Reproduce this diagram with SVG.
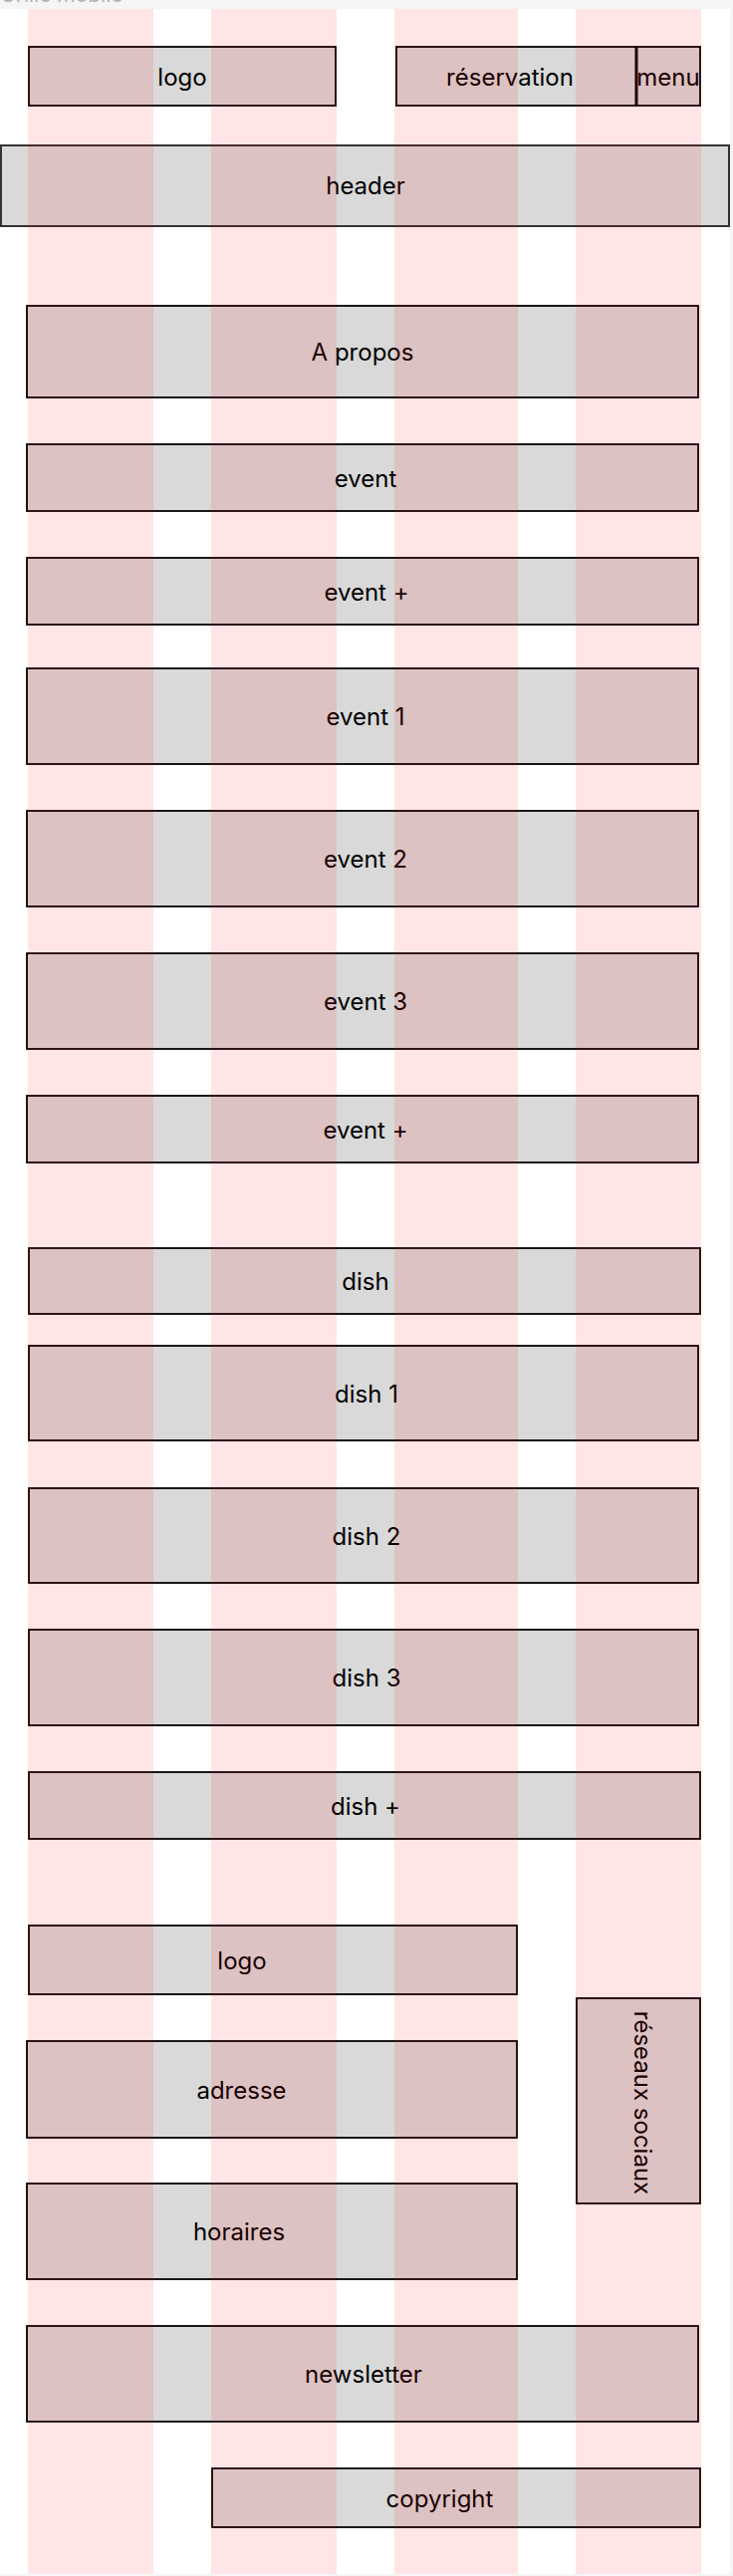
<svg xmlns="http://www.w3.org/2000/svg" width="736" height="2586" viewBox="0 0 736 2586">
<style>
.box{fill:#d9d9d9;stroke:#000;stroke-width:1.8}
.hdr{fill:#d9d9d9;stroke:#333;stroke-width:2}
.lbl{font-family:Inter,"Liberation Sans",sans-serif;font-size:24px;fill:#000;text-anchor:middle}
.col{fill:#ff0000;fill-opacity:0.1}
</style>
<rect x="0" y="0" width="736" height="2586" fill="#f5f5f5"/>
<text x="0" y="2" style="font-family:Inter,'Liberation Sans',sans-serif;font-size:21px;fill:#b3b3b3">Grille mobile</text>
<rect x="0" y="9" width="733" height="2575" fill="#ffffff"/>
<g id="connectors"></g>
<g id="n-logo"><rect class="box" x="29" y="47" width="308" height="59"/><text class="lbl" x="183" y="85.5">logo</text></g>
<g id="n-reservation"><rect class="box" x="398" y="47" width="241" height="59"/><text class="lbl" x="512" y="85.5">réservation</text></g>
<g id="n-menu"><rect class="box" x="639" y="47" width="64" height="59"/><line x1="639" y1="47" x2="639" y2="106" stroke="#000" stroke-width="3"/><text class="lbl" x="671" y="85.5">menu</text></g>
<g id="n-header"><rect class="hdr" x="1" y="146" width="731" height="81"/><text class="lbl" x="367" y="195">header</text></g>
<g id="n-apropos"><rect class="box" x="27" y="307" width="674" height="92"/><text class="lbl" x="364" y="362">A propos</text></g>
<g id="n-event"><rect class="box" x="27" y="446" width="674" height="67"/><text class="lbl" x="367" y="488.5">event</text></g>
<g id="n-eventplus1"><rect class="box" x="27" y="560" width="674" height="67"/><text class="lbl" x="368" y="602.5">event +</text></g>
<g id="n-event1"><rect class="box" x="27" y="671" width="674" height="96"/><text class="lbl" x="367" y="728">event 1</text></g>
<g id="n-event2"><rect class="box" x="27" y="814" width="674" height="96"/><text class="lbl" x="367" y="871">event 2</text></g>
<g id="n-event3"><rect class="box" x="27" y="957" width="674" height="96"/><text class="lbl" x="367" y="1014">event 3</text></g>
<g id="n-eventplus2"><rect class="box" x="27" y="1100" width="674" height="67"/><text class="lbl" x="367" y="1142.5">event +</text></g>
<g id="n-dish"><rect class="box" x="29" y="1253" width="674" height="66"/><text class="lbl" x="367" y="1295">dish</text></g>
<g id="n-dish1"><rect class="box" x="29" y="1351" width="672" height="95"/><text class="lbl" x="368" y="1407.5">dish 1</text></g>
<g id="n-dish2"><rect class="box" x="29" y="1494" width="672" height="95"/><text class="lbl" x="368" y="1550.5">dish 2</text></g>
<g id="n-dish3"><rect class="box" x="29" y="1636" width="672" height="96"/><text class="lbl" x="368" y="1693">dish 3</text></g>
<g id="n-dishplus"><rect class="box" x="29" y="1779" width="674" height="67"/><text class="lbl" x="367" y="1821.5">dish +</text></g>
<g id="n-logo2"><rect class="box" x="29" y="1933" width="490" height="69"/><text class="lbl" x="243" y="1976.5">logo</text></g>
<g id="n-reseaux"><rect class="box" x="579" y="2006" width="124" height="206"/><text class="lbl" transform="translate(641 2111) rotate(90)" x="0" y="4">réseaux sociaux</text></g>
<g id="n-adresse"><rect class="box" x="27" y="2049" width="492" height="97"/><text class="lbl" x="242.5" y="2106.5">adresse</text></g>
<g id="n-horaires"><rect class="box" x="27" y="2192" width="492" height="96"/><text class="lbl" x="240" y="2249">horaires</text></g>
<g id="n-newsletter"><rect class="box" x="27" y="2335" width="674" height="96"/><text class="lbl" x="365" y="2392">newsletter</text></g>
<g id="n-copyright"><rect class="box" x="213" y="2478" width="490" height="59"/><text class="lbl" x="441.5" y="2516.5">copyright</text></g>
<g id="grid">
<rect class="col" x="28" y="9" width="126" height="2575"/>
<rect class="col" x="212" y="9" width="126" height="2575"/>
<rect class="col" x="396" y="9" width="124" height="2575"/>
<rect class="col" x="578" y="9" width="126" height="2575"/>
</g>
</svg>
